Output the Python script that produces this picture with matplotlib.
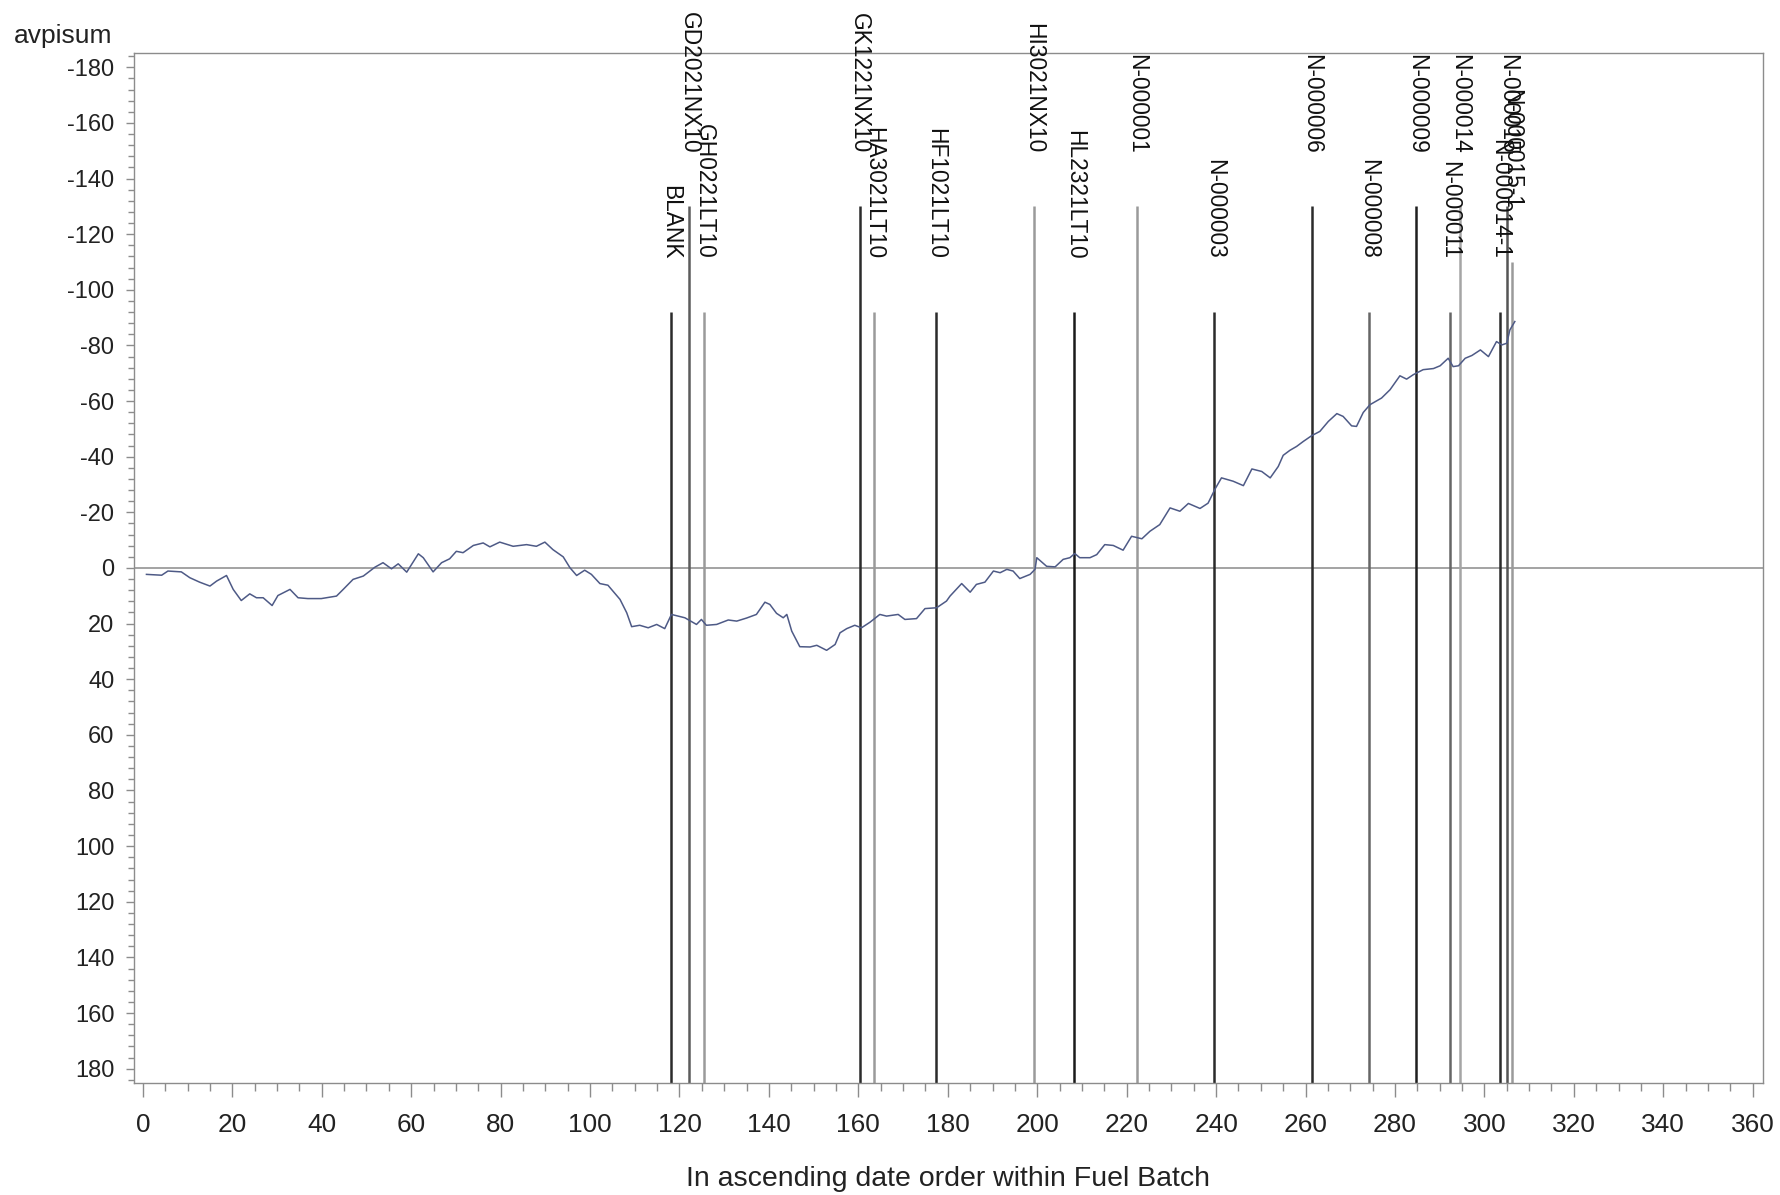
import matplotlib
matplotlib.use("Agg")
import matplotlib.pyplot as plt
from matplotlib import font_manager
from matplotlib.ticker import MultipleLocator

# Traced cumulative series (avpisum) by position in date order
serie_x = [0.8, 4.2, 5.6, 8.6, 10.5, 12.7, 15.0, 16.5, 18.7, 20.2, 22.0, 23.9, 25.4, 26.9,
           28.9, 30.2, 32.9, 34.7, 36.9, 39.9, 43.3, 44.8, 47.0, 49.3, 51.9, 53.7, 55.6,
           57.1, 59.0, 61.6, 62.7, 64.9, 66.8, 68.6, 70.1, 71.6, 73.9, 76.1, 77.6, 79.8,
           82.8, 85.8, 88.0, 89.9, 91.7, 94.0, 95.5, 97.0, 98.8, 100.3, 102.2, 104.0,
           106.7, 108.2, 109.3, 111.1, 113.0, 114.9, 116.7, 118.2, 121.2, 123.8, 124.9,
           126.0, 128.3, 130.9, 132.8, 135.0, 137.2, 139.1, 140.2, 141.7, 143.2, 144.0,
           145.1, 146.9, 149.2, 150.7, 152.9, 154.8, 155.9, 157.4, 159.2, 160.7, 162.6,
           164.8, 166.3, 168.9, 170.4, 173.0, 174.9, 177.5, 179.7, 180.5, 183.1, 185.0,
           186.4, 188.3, 190.2, 191.7, 193.2, 194.6, 196.1, 198.4, 199.5, 199.9, 202.1,
           204.0, 205.8, 207.3, 208.4, 209.5, 211.8, 213.3, 215.1, 217.0, 219.2, 221.1,
           223.4, 225.2, 227.4, 229.7, 231.9, 233.8, 236.4, 238.2, 239.8, 241.2, 243.8,
           246.1, 248.0, 250.2, 252.1, 253.9, 255.0, 256.5, 258.0, 259.5, 261.4, 263.2,
           265.1, 267.0, 268.4, 270.3, 271.4, 272.9, 274.4, 277.0, 278.9, 281.1, 282.6,
           284.1, 286.3, 288.6, 290.1, 291.9, 293.0, 294.2, 295.7, 297.2, 299.1, 300.9,
           302.7, 303.9, 305.0, 305.7, 306.8]
serie_y = [2.3, 2.6, 1.1, 1.4, 3.5, 5.1, 6.5, 4.7, 2.7, 7.7, 11.7, 9.3, 10.7, 10.7,
           13.5, 9.9, 7.7, 10.7, 11.0, 11.0, 10.1, 7.7, 4.1, 2.9, -0.3, -1.9, 0.3,
           -1.5, 1.5, -5.1, -3.7, 1.4, -1.9, -3.3, -6.0, -5.5, -8.1, -9.0, -7.6, -9.3,
           -7.8, -8.4, -7.8, -9.3, -6.6, -4.0, -0.1, 2.7, 0.8, 2.3, 5.6, 6.2,
           11.3, 16.1, 21.1, 20.6, 21.5, 20.3, 21.8, 16.7, 17.9, 20.3, 18.5,
           20.6, 20.3, 18.7, 19.1, 18.0, 16.7, 12.3, 13.1, 16.3, 17.9, 16.7,
           22.7, 28.3, 28.4, 27.8, 29.6, 27.5, 23.3, 21.8, 20.6, 21.5, 19.5,
           16.7, 17.3, 16.7, 18.5, 18.2, 14.6, 14.3, 11.9, 10.1, 5.6, 8.7,
           5.9, 5.1, 1.1, 1.7, 0.5, 1.1, 3.8, 2.3, 0.5, -3.7, -0.6,
           -0.4, -3.1, -3.7, -5.2, -3.7, -3.7, -4.8, -8.4, -8.1, -6.4, -11.4,
           -10.5, -13.2, -15.6, -21.6, -20.4, -23.2, -21.4, -23.3, -28.5, -32.4, -31.2,
           -29.6, -35.6, -34.7, -32.4, -36.5, -40.5, -42.3, -43.7, -45.5, -47.6, -49.1,
           -52.7, -55.5, -54.5, -51.1, -50.9, -55.9, -58.7, -61.1, -64.1, -69.1, -67.9,
           -69.5, -71.3, -71.7, -72.7, -75.4, -72.4, -72.7, -75.4, -76.4, -78.4, -76.0,
           -81.4, -80.2, -80.8, -85.6, -88.6]

# Fuel batch markers: name, position, top of the reference line
marcas = ["BLANK", "GD2021NX10", "GH0221LT10", "GK1221NX10", "HA3021LT10", "HF1021LT10",
          "HI3021NX10", "HL2321LT10", "N-000001", "N-000003", "N-000006", "N-000008",
          "N-000009", "N-000011", "N-000014", "N-000014-1", "N-000015", "N-000015-1"]
marcas_x = [118.1, 122.2, 125.5, 160.3, 163.4, 177.3, 199.2, 208.3, 222.3, 239.6,
            261.4, 274.1, 284.8, 292.2, 294.5, 303.4, 305.1, 306.1]
marcas_alto = [-92, -130, -92, -130, -92, -92, -130, -92, -130, -92,
               -130, -92, -130, -92, -130, -92, -130, -110]

# line shade per marker
tonos = ["#2b2b2b", "#5c5c5c", "#9a9a9a", "#2b2b2b", "#9a9a9a", "#2b2b2b",
         "#9a9a9a", "#1a1a1a", "#9a9a9a", "#2b2b2b", "#2b2b2b", "#666666",
         "#1f1f1f", "#666666", "#a5a5a5", "#2b2b2b", "#555555", "#9a9a9a"]

try:
    font_manager.findfont("Liberation Sans Narrow", fallback_to_default=False)
    ANGOSTA = "Liberation Sans Narrow"
    ESCALA = 1.0
except ValueError:
    ANGOSTA = "Liberation Sans"
    ESCALA = 0.82

plt.rcParams["font.family"] = ["Liberation Sans", "DejaVu Sans"]
plt.rcParams["axes.unicode_minus"] = False

fig = plt.figure(figsize=(17.81, 11.95), dpi=100)
ax = fig.add_axes([0.0752, 0.0941, 0.9147, 0.8612])

gris_eje = "#8c8c8c"

ax.axhline(0, color="#8a8a8a", lw=1.1, zorder=1)
ax.plot(serie_x, serie_y, color="#4e5a86", lw=1.1, zorder=3)

for nombre, x, alto, tono in zip(marcas, marcas_x, marcas_alto, tonos):
    ax.vlines(x, alto, 185, colors=tono, lw=1.8, zorder=2)
    ax.text(x, alto - 19, nombre, rotation=270, ha="center", va="bottom",
            family=ANGOSTA, fontsize=20 * ESCALA, color="#111111", clip_on=False)

ax.set_xlim(-2, 362.3)
ax.set_ylim(185, -185)

ax.xaxis.set_major_locator(MultipleLocator(20))
ax.xaxis.set_minor_locator(MultipleLocator(5))
ax.yaxis.set_major_locator(MultipleLocator(20))
ax.yaxis.set_minor_locator(MultipleLocator(4))

for s in ax.spines.values():
    s.set_color(gris_eje)
    s.set_linewidth(1.0)

ax.tick_params(axis="both", which="major", color=gris_eje, width=1.0)
ax.tick_params(axis="both", which="minor", color=gris_eje, width=1.0)
ax.tick_params(axis="y", which="major", length=6, pad=8, labelsize=17)
ax.tick_params(axis="y", which="minor", length=4)
ax.tick_params(axis="x", which="major", length=10, pad=12)
ax.tick_params(axis="x", which="minor", length=6)
for lab in ax.get_xticklabels():
    lab.set_family(ANGOSTA)
    lab.set_fontsize(23 * ESCALA)
    lab.set_color("#222222")
for lab in ax.get_yticklabels():
    lab.set_color("#222222")

fig.text(14 / 1781, 1 - 43 / 1195, "avpisum", fontsize=19, color="#222222",
         ha="left", va="baseline")
fig.text(948 / 1781, 1 - 1179 / 1195, "In ascending date order within Fuel Batch",
         family=ANGOSTA, fontsize=25 * ESCALA, color="#222222", ha="center", va="center")

fig.savefig("out.png", dpi=100)
